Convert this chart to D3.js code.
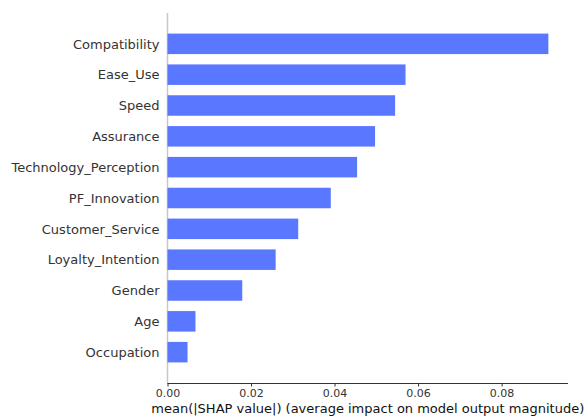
<!DOCTYPE html>
<html>
<head>
<meta charset="utf-8">
<script src="https://cdn.jsdelivr.net/npm/d3@7"></script>
<style>
  body { margin: 0; background: #fff; }
  svg { display: block; }
</style>
</head>
<body>
<div id="chart"></div>
<script>
// features, top to bottom, and their mean |SHAP| values
var features = ["Compatibility", "Ease_Use", "Speed", "Assurance", "Technology_Perception",
                "PF_Innovation", "Customer_Service", "Loyalty_Intention", "Gender", "Age", "Occupation"];
var shapValues = [0.0912, 0.0570, 0.0545, 0.0497, 0.0454, 0.0391, 0.0313, 0.0259, 0.0179, 0.0067, 0.0048];
var xTicks = [0, 0.02, 0.04, 0.06, 0.08];
var xLabel = "mean(|SHAP value|) (average impact on model output magnitude)";

var W = 586, H = 417;
var plotLeft = 167.5, plotRight = 568, plotTop = 13, plotBottom = 383;

var svg = d3.select("#chart")
  .append("svg")
    .attr("width", W)
    .attr("height", H);

var x = d3.scaleLinear()
  .domain([0, 0.0959])
  .range([plotLeft, plotRight]);

var step = (plotBottom - plotTop) / (features.length + 1);
var y = d3.scaleBand()
  .domain(features)
  .range([plotTop + step / 2, plotBottom - step / 2])
  .paddingInner(0.335)
  .paddingOuter(0.1675);

// gray zero line
svg.append("line")
  .attr("x1", x(0)).attr("x2", x(0))
  .attr("y1", plotTop).attr("y2", plotBottom)
  .attr("stroke", "#c8c8c8")
  .attr("stroke-width", 1.5);

// bars
svg.selectAll("rect.bar")
  .data(features)
  .enter()
  .append("rect")
    .attr("class", "bar")
    .attr("x", x(0))
    .attr("y", function(d) { return y(d); })
    .attr("width", function(d, i) { return x(shapValues[i]) - x(0); })
    .attr("height", y.bandwidth())
    .attr("fill", "#5a78ff");

// feature names
svg.selectAll("text.feat")
  .data(features)
  .enter()
  .append("text")
    .attr("class", "feat")
    .attr("x", 159.5)
    .attr("y", function(d) { return y(d) + y.bandwidth() / 2; })
    .attr("dy", "0.36em")
    .attr("text-anchor", "end")
    .attr("font-family", "DejaVu Sans")
    .attr("font-size", 13)
    .attr("fill", "#333333")
    .text(function(d) { return d; });

// x axis
var xAxis = svg.append("g")
  .attr("transform", "translate(0," + plotBottom + ")")
  .call(d3.axisBottom(x)
    .tickValues(xTicks)
    .tickSize(3.5)
    .tickPadding(3)
    .tickSizeOuter(0)
    .tickFormat(d3.format(".2f")));
xAxis.select(".domain").attr("stroke", "#333333").attr("d", "M" + plotLeft + ",0.5H" + plotRight);
xAxis.selectAll(".tick line").attr("stroke", "#333333");
xAxis.selectAll(".tick text")
  .attr("font-family", "DejaVu Sans")
  .attr("font-size", 11)
  .attr("fill", "#333333");

svg.append("text")
  .attr("x", (plotLeft + plotRight) / 2)
  .attr("y", 413)
  .attr("text-anchor", "middle")
  .attr("font-family", "DejaVu Sans")
  .attr("font-size", 13)
  .attr("fill", "#111111")
  .text(xLabel);
</script>
</body>
</html>
